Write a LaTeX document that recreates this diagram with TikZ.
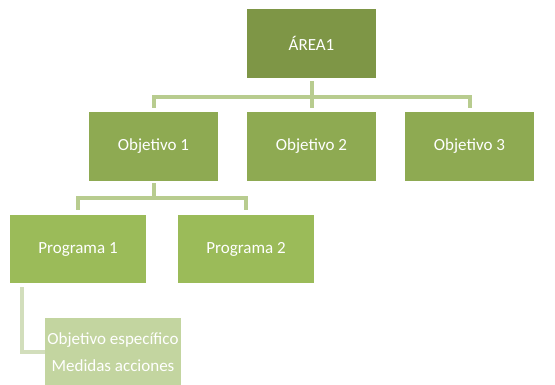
\documentclass[tikz,border=0pt]{standalone}
\usepackage{fontspec}
\setmainfont{Carlito}
\definecolor{verdearea}{HTML}{7E9646}
\definecolor{verdeobj}{HTML}{8EAA52}
\definecolor{verdeprog}{HTML}{9BBB59}
\definecolor{verdehoja}{HTML}{C3D5A0}
\definecolor{verdelinea}{HTML}{B8CC8F}
\definecolor{verdelinea2}{HTML}{D2DEBC}

\begin{document}
\begin{tikzpicture}[x=1pt, y=-1pt,
    caja/.style={rectangle, inner sep=0pt, text=white,
        font=\fontsize{17}{27}\selectfont},
    nivel1/.style={caja, fill=verdearea, minimum width=129pt, minimum height=69pt},
    nivel2/.style={caja, fill=verdeobj, minimum width=129pt, minimum height=69pt},
    nivel3/.style={caja, fill=verdeprog, minimum width=136pt, minimum height=68pt},
    hojabox/.style={caja, fill=verdehoja, minimum width=136pt, minimum height=68pt, align=center},
    conector/.style={draw=verdelinea, line width=4pt},
    conector2/.style={draw=verdelinea2, line width=3.5pt}]
    \useasboundingbox (0,0) rectangle (555,385);

    % cajas
    \node[nivel1] (area) at (311.5,43.5) {ÁREA1};
    \node[nivel2] (obj1) at (153.5,146.5) {Objetivo 1};
    \node[nivel2] (obj2) at (311.5,146.5) {Objetivo 2};
    \node[nivel2] (obj3) at (469.5,146.5) {Objetivo 3};
    \node[nivel3] (prog1) at (78,249) {Programa 1};
    \node[nivel3] (prog2) at (246,249) {Programa 2};
    \node[hojabox] (hoja) at (113,352) {Objetivo específico\\Medidas acciones};

    % conectores
    \draw[conector, shorten <=3pt, shorten >=4pt] (area.south) -- ++(0,19) -| (obj1.north);
    \draw[conector, shorten <=3pt, shorten >=4pt] (area.south) -- ++(0,19) -| (obj3.north);
    \draw[conector, shorten <=3pt, shorten >=4pt] (area.south) -- (obj2.north);
    \draw[conector, shorten <=2pt, shorten >=5pt] (obj1.south) -- ++(0,17) -| (prog1.north);
    \draw[conector, shorten <=2pt, shorten >=5pt] (obj1.south) -- ++(0,17) -| (prog2.north);
    \draw[conector2, shorten <=4pt] ([xshift=12pt]prog1.south west) |- (hoja.west);
\end{tikzpicture}
\end{document}
